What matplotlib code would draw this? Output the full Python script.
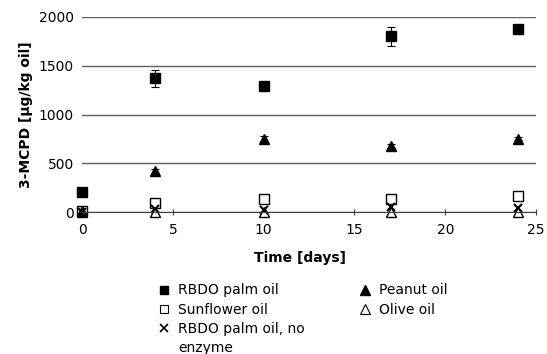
import matplotlib.pyplot as plt
from matplotlib.lines import Line2D

days = [0, 4, 10, 17, 24]

rbdo_palm = [205, 1370, 1290, 1800, 1880]
rbdo_palm_err = [0, 90, 0, 100, 30]
peanut = [10, 420, 750, 680, 750]
peanut_err = [0, 20, 25, 20, 15]
sunflower = [10, 90, 130, 130, 160]
olive = [0, 0, 0, 0, 0]
no_enzyme = [5, 30, 20, 50, 40]

labels_left = ["RBDO palm oil", "Sunflower oil", "RBDO palm oil, no", "enzyme"]
labels_right = ["Peanut oil", "Olive oil"]


def main() -> None:
    fig = plt.figure(figsize=(5.47, 3.54), dpi=100)
    ax = fig.add_axes([0.15, 0.401, 0.83, 0.551])

    kw = dict(color="black", linestyle="none", capsize=3, elinewidth=0.8, capthick=0.8)
    ax.errorbar(days, rbdo_palm, yerr=rbdo_palm_err, marker="s", markersize=7, **kw)
    ax.errorbar(days, peanut, yerr=peanut_err, marker="^", markersize=7, **kw)
    ax.plot(days, sunflower, "s", markersize=7, mfc="white", mec="black", mew=1)
    ax.plot(days, olive, "^", markersize=7, mfc="white", mec="black", mew=1)
    ax.plot(days, no_enzyme, "x", markersize=6, color="black", mew=1.5)

    ax.set_xlim(0, 25)
    ax.set_ylim(0, 2000)
    ax.set_xticks([0, 5, 10, 15, 20, 25])
    ax.set_yticks([0, 500, 1000, 1500, 2000])
    ax.yaxis.grid(True, color="#606060", linewidth=1)
    ax.set_axisbelow(True)
    for side in ("left", "right", "top"):
        ax.spines[side].set_visible(False)
    ax.spines["bottom"].set_color("#404040")
    ax.tick_params(axis="y", length=0, labelsize=10, pad=6)
    ax.tick_params(axis="x", length=4, direction="inout", labelsize=10, pad=6, color="#404040")
    for artist in ax.get_children():
        artist.set_clip_on(False)

    ax.set_xlabel("Time [days]", fontweight="bold", fontsize=10)
    ax.xaxis.set_label_coords(0.48, -0.2)
    ax.set_ylabel("3-MCPD [µg/kg oil]", fontweight="bold", fontsize=10, labelpad=4)

    left_handles = [
        Line2D([], [], linestyle="none", marker="s", markersize=6, color="black"),
        Line2D([], [], linestyle="none", marker="s", markersize=6, mfc="white", mec="black", mew=0.8),
        Line2D([], [], linestyle="none", marker="x", markersize=6, color="black", mew=1.2),
        Line2D([], [], linestyle="none"),
    ]
    right_handles = [
        Line2D([], [], linestyle="none", marker="^", markersize=7, color="black"),
        Line2D([], [], linestyle="none", marker="^", markersize=7, mfc="white", mec="black", mew=0.8),
    ]
    common = dict(loc="upper left", frameon=False, fontsize=10, handlelength=0.6,
                  handletextpad=0.7, labelspacing=0.38, borderaxespad=0)
    fig.legend(left_handles, labels_left, bbox_to_anchor=(0.282, 0.215), **common)
    fig.legend(right_handles, labels_right, bbox_to_anchor=(0.649, 0.215), **common)

    fig.savefig("out.png", dpi=100)
    plt.close(fig)


if __name__ == "__main__":
    main()
